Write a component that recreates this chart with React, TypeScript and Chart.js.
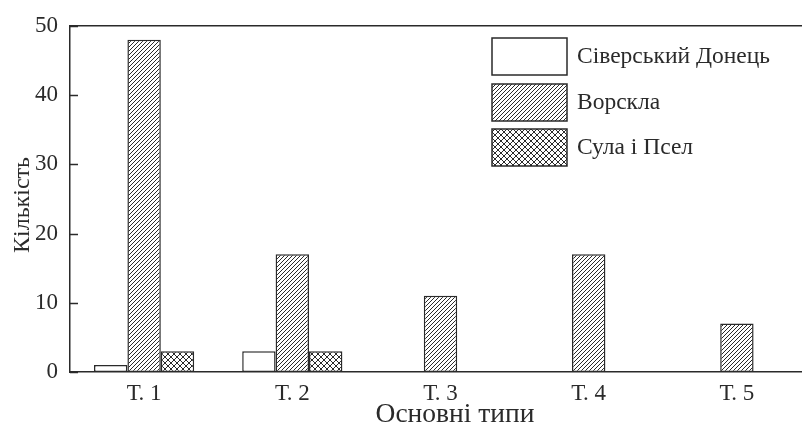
import React, { useEffect, useRef } from "react";
import { Chart, registerables } from "chart.js";

Chart.register(...registerables);

const categories = ["Т. 1", "Т. 2", "Т. 3", "Т. 4", "Т. 5"];
const seriesNames = ["Сіверський Донець", "Ворскла", "Сула і Псел"];
const siverskyiDonets = [1, 3, 0, 0, 0];
const vorskla = [48, 17, 11, 17, 7];
const sulaPsel = [3, 3, 0, 0, 0];
const yMin = 0;
const yMax = 50;
const yStep = 10;
const xTitle = "Основні типи";
const yTitle = "Кількість";

const INK = "#2a2a2a";
const FONT = "'Liberation Serif', 'Times New Roman', serif";

function makeDiagonal(period: number): CanvasPattern | string {
  const c = document.createElement("canvas");
  const s = period * 2;
  c.width = s;
  c.height = s;
  const g = c.getContext("2d");
  if (!g) return "#fff";
  g.fillStyle = "#fff";
  g.fillRect(0, 0, s, s);
  g.strokeStyle = INK;
  g.lineWidth = 1;
  for (let k = -s; k <= s * 2; k += period) {
    g.beginPath();
    g.moveTo(k, s);
    g.lineTo(k + s, 0);
    g.stroke();
  }
  return g.createPattern(c, "repeat") as CanvasPattern;
}

function makeCross(period: number): CanvasPattern | string {
  const c = document.createElement("canvas");
  const s = period;
  c.width = s;
  c.height = s;
  const g = c.getContext("2d");
  if (!g) return "#fff";
  g.fillStyle = "#fff";
  g.fillRect(0, 0, s, s);
  g.strokeStyle = INK;
  g.lineWidth = 1;
  for (let k = -s; k <= s; k += s) {
    g.beginPath();
    g.moveTo(k, s);
    g.lineTo(k + s, 0);
    g.stroke();
    g.beginPath();
    g.moveTo(k, 0);
    g.lineTo(k + s, s);
    g.stroke();
  }
  return g.createPattern(c, "repeat") as CanvasPattern;
}

function fitFont(ctx: CanvasRenderingContext2D, text: string, targetW: number) {
  ctx.font = `24px ${FONT}`;
  const w = ctx.measureText(text).width || 1;
  const size = Math.round((24 * targetW) / w * 2) / 2;
  ctx.font = `${size}px ${FONT}`;
}

const decorPlugin = {
  id: "decor",
  afterDraw(chart: any) {
    const ctx = chart.ctx as CanvasRenderingContext2D;
    const y = chart.scales.y;
    const x = chart.scales.x;
    const area = chart.chartArea;
    ctx.save();
    ctx.strokeStyle = INK;
    ctx.lineWidth = 1.5;
    // top frame line
    ctx.beginPath();
    ctx.moveTo(area.left, area.top);
    ctx.lineTo(area.right, area.top);
    ctx.stroke();
    // inward y ticks
    for (let v = yMin; v <= yMax; v += yStep) {
      const py = Math.round(y.getPixelForValue(v)) + 0.5;
      ctx.beginPath();
      ctx.moveTo(x.left, py);
      ctx.lineTo(x.left + 8, py);
      ctx.stroke();
    }
    // axis titles
    ctx.fillStyle = INK;
    ctx.textAlign = "center";
    ctx.textBaseline = "middle";
    fitFont(ctx, xTitle, 160);
    ctx.fillText(xTitle, 455, 415);
    ctx.save();
    ctx.translate(23, 205);
    ctx.rotate(-Math.PI / 2);
    fitFont(ctx, yTitle, 96);
    ctx.fillText(yTitle, 0, 0);
    ctx.restore();
    // legend
    ctx.font = `23.5px ${FONT}`;
    const boxX = 492;
    const boxW = 75;
    const boxH = 37;
    const rowTops = [38, 84, 129];
    chart.data.datasets.forEach((ds: any, i: number) => {
      const top = rowTops[i];
      ctx.fillStyle = ds.backgroundColor;
      ctx.fillRect(boxX, top, boxW, boxH);
      ctx.strokeStyle = INK;
      ctx.lineWidth = 1.5;
      ctx.strokeRect(boxX, top, boxW, boxH);
      ctx.fillStyle = INK;
      ctx.textAlign = "left";
      ctx.textBaseline = "middle";
      ctx.fillText(ds.label, 577, top + boxH / 2);
    });
    ctx.restore();
  },
};

export default function App() {
  const ref = useRef<HTMLCanvasElement | null>(null);
  useEffect(() => {
    if (!ref.current) return;
    const diag = makeDiagonal(4);
    const cross = makeCross(6);
    const chart = new Chart(ref.current, {
      type: "bar",
      data: {
        labels: categories,
        datasets: [
          {
            label: seriesNames[0],
            data: siverskyiDonets,
            backgroundColor: "#ffffff",
            borderColor: INK,
            borderWidth: 1.5,
          },
          {
            label: seriesNames[1],
            data: vorskla,
            backgroundColor: diag as any,
            borderColor: INK,
            borderWidth: 1.5,
          },
          {
            label: seriesNames[2],
            data: sulaPsel,
            backgroundColor: cross as any,
            borderColor: INK,
            borderWidth: 1.5,
          },
        ],
      },
      options: {
        animation: false,
        responsive: false,
        devicePixelRatio: 1,
        layout: { padding: { top: 17, right: 0, left: 0, bottom: 0 } },
        datasets: {
          bar: { categoryPercentage: 0.676, barPercentage: 1.0, borderSkipped: false },
        },
        plugins: {
          legend: { display: false },
          tooltip: { enabled: false },
        },
        scales: {
          x: {
            grid: { display: false, drawTicks: false },
            border: { display: true, color: INK, width: 1.5 },
            ticks: {
              color: INK,
              font: { family: FONT, size: 23 },
              padding: 8,
              maxRotation: 0,
            },
            afterFit(scale: any) {
              scale.height = 52;
            },
          },
          y: {
            min: yMin,
            max: yMax,
            grid: { display: false, drawTicks: false },
            border: { display: true, color: INK, width: 1.5 },
            ticks: {
              stepSize: yStep,
              color: INK,
              font: { family: FONT, size: 23 },
              padding: 12,
            },
            afterFit(scale: any) {
              scale.width = 70;
            },
          },
        },
      },
      plugins: [decorPlugin],
    });
    return () => chart.destroy();
  }, []);
  return (
    <div
      style={{
        position: "absolute",
        left: 0,
        top: 0,
        width: 802,
        height: 424,
        overflow: "hidden",
        background: "#fff",
      }}
    >
      <canvas ref={ref} width={811} height={424} style={{ display: "block" }} />
    </div>
  );
}
